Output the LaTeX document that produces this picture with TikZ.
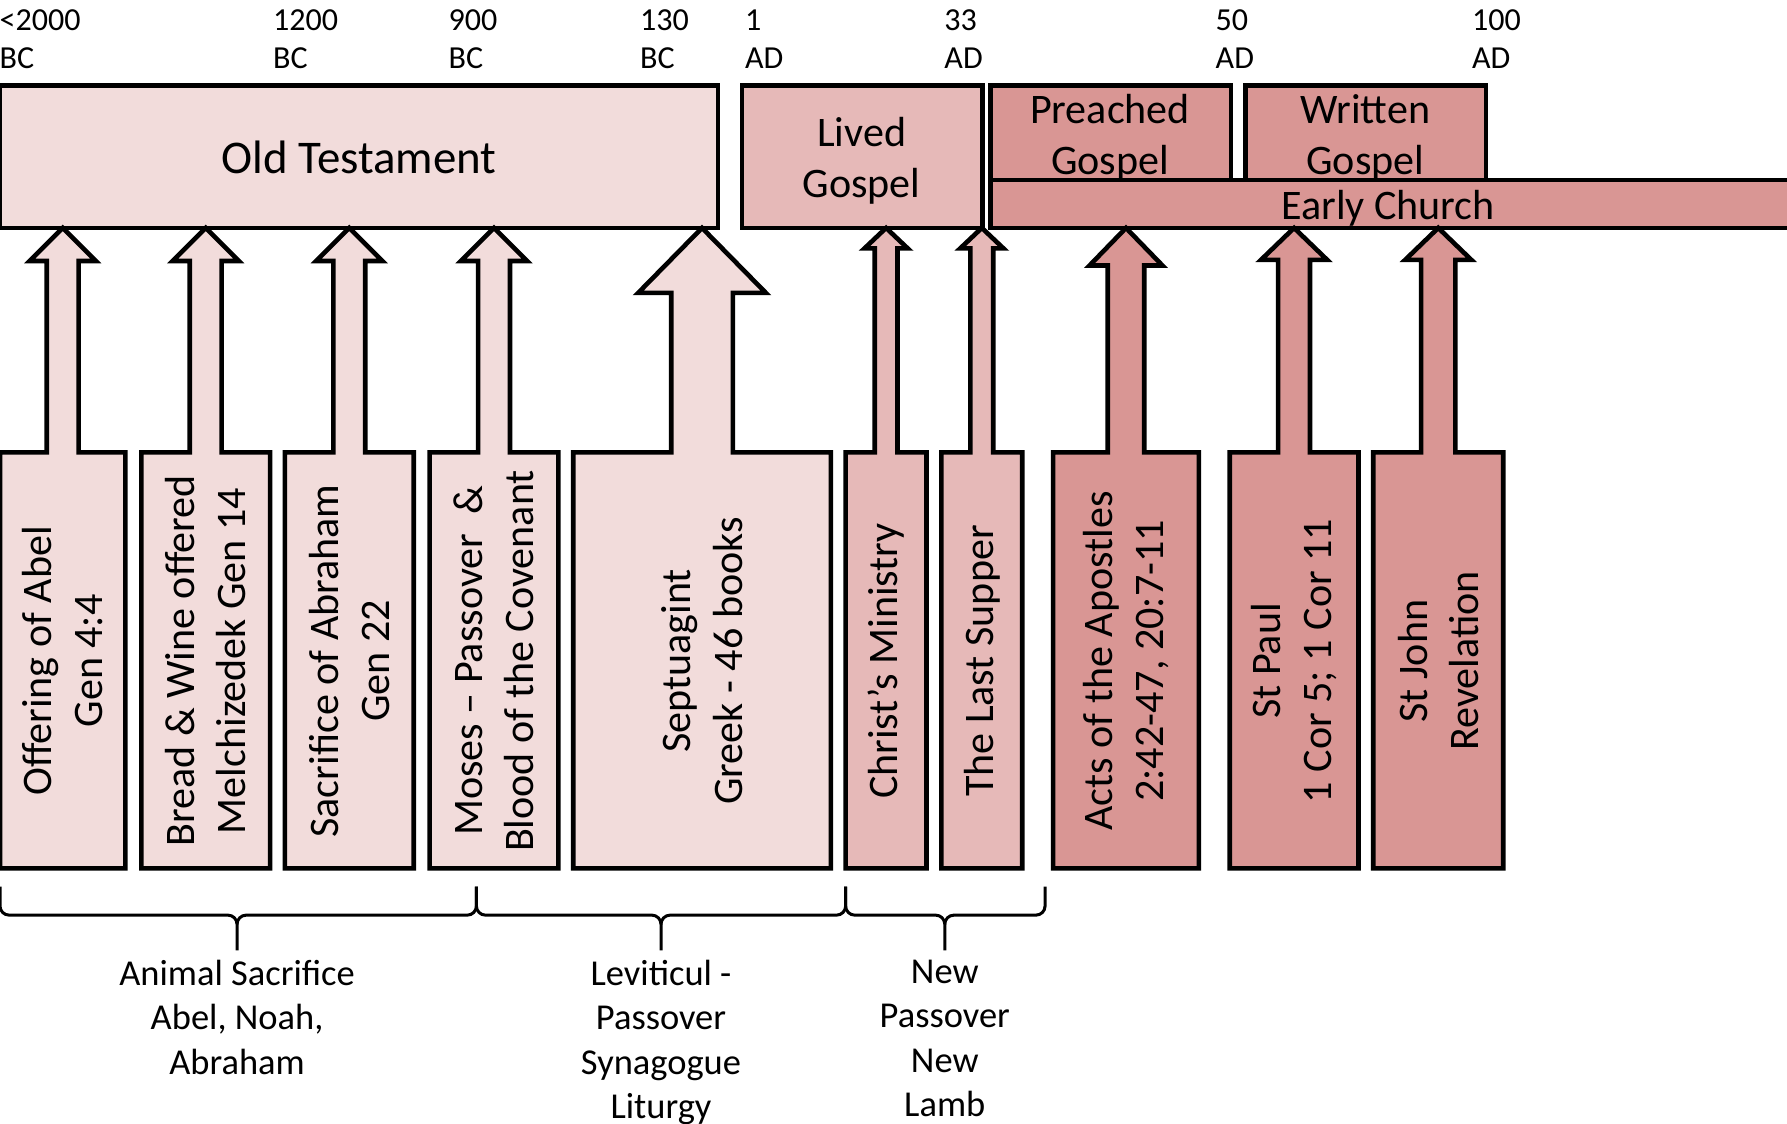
\documentclass[tikz,border=0pt]{standalone}
\usepackage{fontspec}
\setmainfont{Carlito}
\definecolor{otpink}{HTML}{F2DCDB}
\definecolor{livedpink}{HTML}{E6B9B8}
\definecolor{churchpink}{HTML}{D99694}

\begin{document}
\begin{tikzpicture}[x=0.01cm,y=-0.01cm,
        outline/.style={draw=black,line width=1.15pt,line join=miter},
        bracket/.style={draw=black,line width=0.75pt},
        yearlabel/.style={anchor=north west,inner sep=0pt,align=left,font=\fontsize{8}{9.4}\selectfont},
        toptext/.style={inner sep=0pt,align=center,font=\fontsize{10.5}{12.8}\selectfont},
        boxtext/.style={inner sep=0pt,align=center,rotate=90,font=\fontsize{10.5}{12.8}\selectfont},
        bracetext/.style={anchor=north,inner sep=0pt,align=center,font=\fontsize{9.1}{11.1}\selectfont}]
        \useasboundingbox (0,0) rectangle (1568,986);
        \foreach \n/\x/\t in {bcA/-1/{<2000\\BC},bcB/239/{1200\\BC},bcC/393/{900\\BC},bcD/561/{130\\BC},
                adA/653/{1\\AD},adB/828/{33\\AD},adC/1066/{50\\AD},adD/1291/{100\\AD}}
            \node[yearlabel] (\n) at (\x,8) {\t};
        \filldraw[outline,fill=otpink] (0,75) rectangle (630,200);
        \node[toptext,font=\fontsize{11.7}{14}\selectfont] (oldtest) at (315,138) {Old Testament};
        \filldraw[outline,fill=livedpink] (651,75) rectangle (862,200);
        \node[toptext] (lived) at (756,141) {Lived\\Gospel};
        \filldraw[outline,fill=churchpink] (869,75) rectangle (1080,158);
        \node[toptext] (preached) at (974,121) {Preached\\Gospel};
        \filldraw[outline,fill=churchpink] (1093,75) rectangle (1304,158);
        \node[toptext] (written) at (1198,121) {Written\\Gospel};
        \filldraw[outline,fill=churchpink] (869,158) rectangle (1575,200);
        \node[toptext] (church) at (1218,183) {Early Church};
        \foreach \n/\l/\r/\s/\h/\b/\col/\txt in {
                abel/0/110/14/29/229/otpink/{Offering of Abel\\Gen 4:4},
                bread/124/237/14/29/229/otpink/{Bread \& Wine offered\\Melchizedek Gen 14},
                abraham/250/363/14/29/229/otpink/{Sacrifice of Abraham\\Gen 22},
                moses/377/490/14/29/229/otpink/{Moses – Passover~ \&\\Blood of the Covenant},
                septuagint/503/729/27/56/257/otpink/{Septuagint\\Greek - 46 books},
                ministry/742/813/10/19/218/livedpink/{Christ’s Ministry},
                supper/826/897/10/19/218/livedpink/{The Last Supper},
                acts/924/1052/16/32/233/churchpink/{Acts of the Apostles\\2:42-47, 20:7-11},
                paul/1079/1192/14/29/228/churchpink/{St Paul\\1 Cor 5; 1 Cor 11},
                john/1205/1319/15/29/228/churchpink/{St John\\Revelation}}
        {
            \pgfmathsetmacro\c{(\l+\r)/2}
            \filldraw[outline,fill=\col] (\l,762) -- (\l,397) -- (\c-\s,397) -- (\c-\s,\b) -- (\c-\h,\b)
                -- (\c,200) -- (\c+\h,\b) -- (\c+\s,\b) -- (\c+\s,397) -- (\r,397) -- (\r,762) -- cycle;
            \node[boxtext] (\n) at (\c,580) {\txt};
        }
        \foreach \n/\a/\m/\b/\txt in {animal/0/208/418/{Animal Sacrifice\\Abel, Noah,\\Abraham},
                levitical/418/580/742/{Leviticul -\\Passover\\Synagogue\\Liturgy},
                newpass/742/829/917/{New\\Passover\\New\\Lamb}}
        {
            \coordinate (\n tip) at (\m,834);
            \draw[bracket] (\a,778) -- (\a,795) to[out=-90,in=180] (\a+8,803) -- (\m-8,803)
                to[out=0,in=90] (\m,811) -- (\n tip);
            \draw[bracket] (\b,778) -- (\b,795) to[out=-90,in=0] (\b-8,803) -- (\m+8,803)
                to[out=180,in=90] (\m,811);
            \node[bracetext] (\n) at ([yshift=-2.2pt]\n tip) {\txt};
        }
    \end{tikzpicture}
\end{document}
